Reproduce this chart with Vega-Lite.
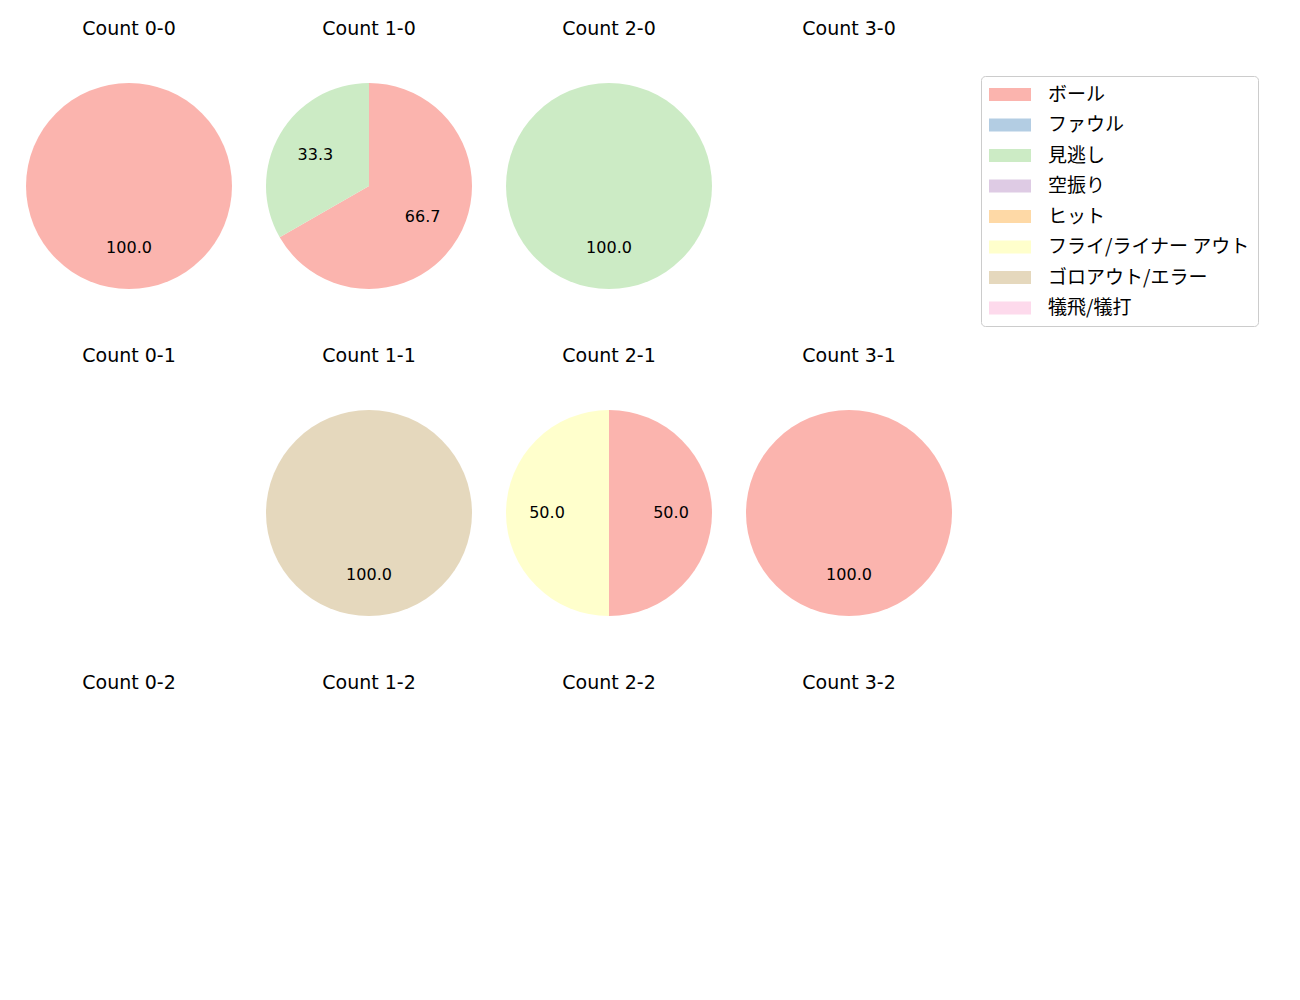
{
  "$schema": "https://vega.github.io/schema/vega-lite/v6.json",
  "background": "white",
  "padding": {"left": 9, "top": 20, "right": 5, "bottom": 5},
  "data": {
    "values": [
      {"count": "Count 0-0", "cat": "ボール", "pct": 100, "ord": 0},
      {"count": "Count 1-0", "cat": "ボール", "pct": 66.7, "ord": 0},
      {"count": "Count 1-0", "cat": "見逃し", "pct": 33.3, "ord": 2},
      {"count": "Count 2-0", "cat": "見逃し", "pct": 100, "ord": 2},
      {"count": "Count 3-0", "cat": "ボール", "pct": 0, "ord": 0},
      {"count": "Count 0-1", "cat": "ボール", "pct": 0, "ord": 0},
      {"count": "Count 1-1", "cat": "ゴロアウト/エラー", "pct": 100, "ord": 6},
      {"count": "Count 2-1", "cat": "ボール", "pct": 50, "ord": 0},
      {"count": "Count 2-1", "cat": "フライ/ライナー アウト", "pct": 50, "ord": 5},
      {"count": "Count 3-1", "cat": "ボール", "pct": 100, "ord": 0},
      {"count": "Count 0-2", "cat": "ボール", "pct": 0, "ord": 0},
      {"count": "Count 1-2", "cat": "ボール", "pct": 0, "ord": 0},
      {"count": "Count 2-2", "cat": "ボール", "pct": 0, "ord": 0},
      {"count": "Count 3-2", "cat": "ボール", "pct": 0, "ord": 0}
    ]
  },
  "facet": {
    "field": "count",
    "type": "nominal",
    "sort": ["Count 0-0", "Count 1-0", "Count 2-0", "Count 3-0", "Count 0-1", "Count 1-1", "Count 2-1", "Count 3-1", "Count 0-2", "Count 1-2", "Count 2-2", "Count 3-2"],
    "header": {"title": null, "labelFontSize": 19, "labelFont": "DejaVu Sans", "labelColor": "black", "labelPadding": 17}
  },
  "columns": 4,
  "spacing": {"column": 0, "row": 31},
  "spec": {
    "width": 240,
    "height": 260,
    "encoding": {
      "theta": {"field": "pct", "type": "quantitative", "stack": true},
      "order": {"field": "ord", "type": "quantitative", "sort": "ascending"}
    },
    "layer": [
      {
        "mark": {"type": "arc", "outerRadius": 103},
        "encoding": {
          "color": {
            "field": "cat",
            "type": "nominal",
            "scale": {
              "domain": ["ボール", "ファウル", "見逃し", "空振り", "ヒット", "フライ/ライナー アウト", "ゴロアウト/エラー", "犠飛/犠打"],
              "range": ["#fbb4ae", "#b3cde3", "#ccebc5", "#decbe4", "#fed9a6", "#ffffcc", "#e5d8bd", "#fddaec"]
            },
            "legend": {
              "title": null,
              "orient": "none",
              "legendX": 972,
              "legendY": 20
            }
          }
        }
      },
      {
        "transform": [{"filter": "datum.pct > 0"}],
        "mark": {"type": "text", "radius": 62, "font": "DejaVu Sans", "fontSize": 16, "color": "black"},
        "encoding": {
          "text": {"field": "pct", "type": "quantitative", "format": ".1f"}
        }
      }
    ]
  },
  "config": {
    "view": {"stroke": null},
    "legend": {
      "symbolType": "M-1,-0.62H3V0.62H-1Z",
      "symbolSize": 441,
      "symbolStrokeWidth": 0,
      "symbolOpacity": 1,
      "labelFont": "Noto Sans CJK JP",
      "labelFontSize": 19,
      "labelColor": "black",
      "labelOffset": 38,
      "rowPadding": 9.5,
      "padding": 8,
      "strokeColor": "#cccccc",
      "cornerRadius": 4,
      "fillColor": "white",
      "labelLimit": 400
    }
  }
}
